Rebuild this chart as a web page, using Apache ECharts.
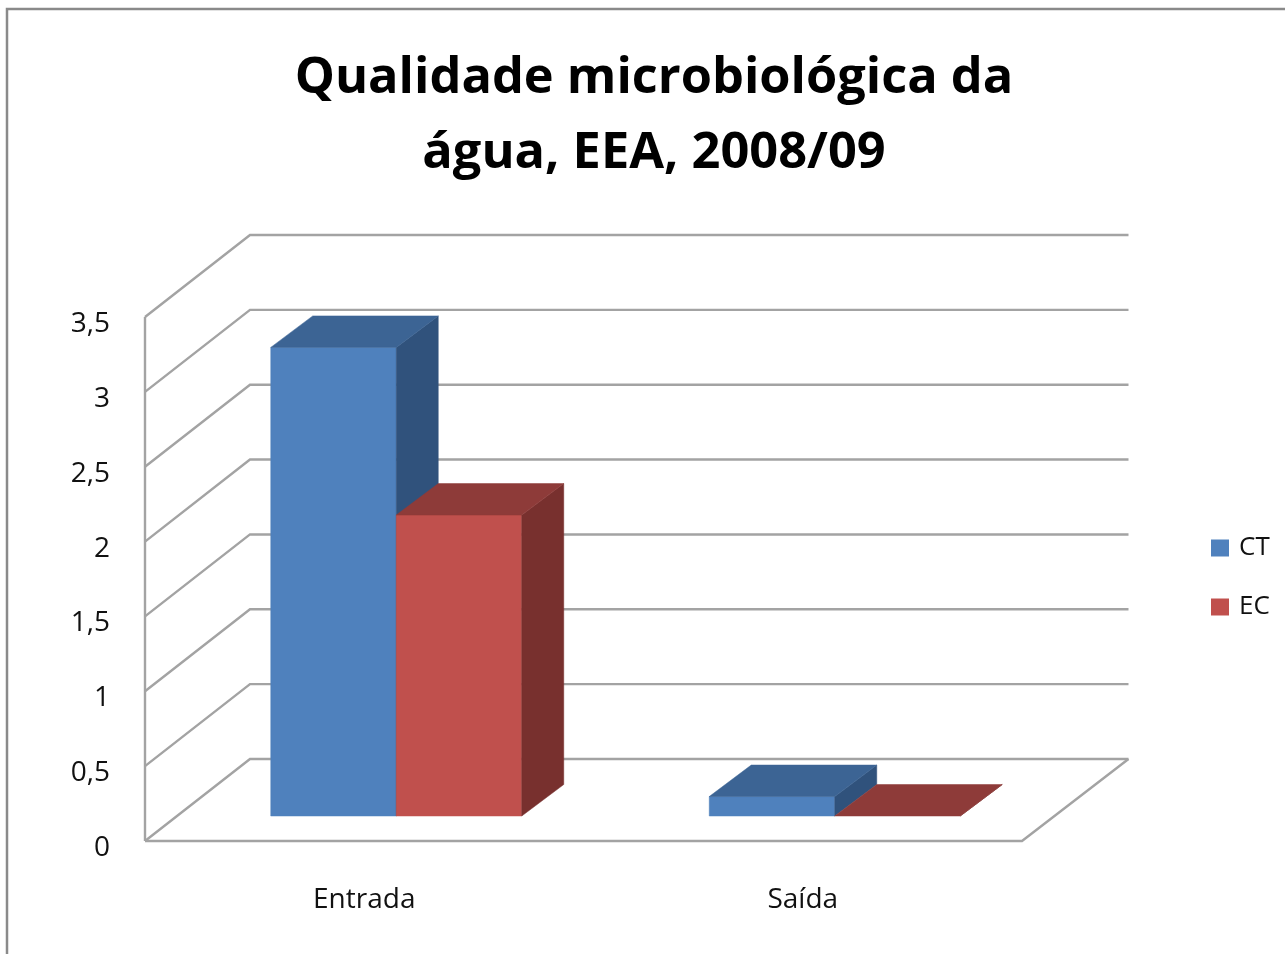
<!DOCTYPE html>
<html>
<head>
<meta charset="utf-8">
<style>html,body{margin:0;padding:0;background:#fff;overflow:hidden}#c{width:1285px;height:954px}</style>
<script src="https://cdn.jsdelivr.net/npm/echarts@6/dist/echarts.min.js"></script>
</head>
<body>
<div id="c"></div>
<script>
const categories = ['Entrada', 'Saída'];
const ctValues = [3.13, 0.13];
const ecValues = [2.01, 0];
const yTicks = [0, 0.5, 1, 1.5, 2, 2.5, 3, 3.5];
const titleText = 'Qualidade microbiológica da\nágua, EEA, 2008/09';
const font = '"Open Sans", "Noto Sans", sans-serif';
const labelColor = '#111';
const lineColor = '#a3a3a3';

const floorDepth = [105, -82];   // front of the floor to the back wall
const wallOverrun = 1.5;         // back wall lines run slightly past the floor corner
const barInset = [32, -25];      // front of the floor to the front of a bar
const barDepth = [42, -31.5];    // front of a bar to its back
const barShare = 0.2862;         // bar width as a share of a category band

function wallItem(params, api) {
  const v = api.value(0);
  const band = api.size([1, 0])[0];
  const y = api.coord([0, v])[1];
  const x0 = api.coord([0, v])[0] - band / 2;
  const x1 = api.coord([1, v])[0] + band / 2;
  const lineStyle = { stroke: lineColor, lineWidth: 2.4, fill: null };
  const bx0 = x0 + floorDepth[0], bx1 = x1 + floorDepth[0] + wallOverrun, by = y + floorDepth[1];
  const children = [{
    type: 'polyline',
    shape: { points: [[x0, y], [bx0, by], [bx1, by]] },
    style: lineStyle
  }];
  if (v === 0) {
    children.push({
      type: 'polyline',
      shape: { points: [[x0, y], [x1, y], [bx1, by]] },
      style: lineStyle
    });
    children.push({
      type: 'line',
      shape: { x1: x0, y1: y, x2: x0, y2: api.coord([0, yTicks[yTicks.length - 1]])[1] },
      style: lineStyle
    });
  }
  return { type: 'group', children };
}

function barRenderer(offsetBars, front, top, side) {
  return function (params, api) {
    const i = api.value(0), v = api.value(1);
    const band = api.size([1, 0])[0];
    const w = band * barShare;
    const base = api.coord([i, 0]);
    const head = api.coord([i, v]);
    const xl = base[0] + offsetBars * w + barInset[0];
    const xr = xl + w;
    const yb = base[1] + barInset[1];
    const yt = head[1] + barInset[1];
    const dx = barDepth[0], dy = barDepth[1];
    const poly = (pts, fill) => ({ type: 'polygon', shape: { points: pts }, style: { fill, stroke: fill, lineWidth: 0.5 } });
    const children = [
      poly([[xr, yb], [xr + dx, yb + dy], [xr + dx, yt + dy], [xr, yt]], side),
      poly([[xl, yt], [xl + dx, yt + dy], [xr + dx, yt + dy], [xr, yt]], top)
    ];
    if (v > 0) children.unshift(poly([[xl, yb], [xr, yb], [xr, yt], [xl, yt]], front));
    return { type: 'group', children };
  };
}

const chart = echarts.init(document.getElementById('c'), null, { renderer: 'canvas' });
chart.setOption({
  animation: false,
  backgroundColor: '#fff',
  title: {
    text: titleText,
    left: 649,
    top: 36,
    textAlign: 'center',
    textStyle: { fontFamily: font, fontWeight: 'bold', fontSize: 50.5, lineHeight: 75, color: '#000' }
  },
  legend: {
    data: ['CT', 'EC'],
    orient: 'vertical',
    left: 1206,
    top: 530,
    icon: 'rect',
    itemWidth: 18,
    itemHeight: 17,
    itemGap: 33,
    textStyle: { fontFamily: font, fontSize: 26, color: labelColor, padding: [0, 0, 0, 5] }
  },
  grid: { left: 145, top: 317, width: 877, height: 524 },
  xAxis: {
    type: 'category',
    data: categories,
    axisLine: { show: false },
    axisTick: { show: false },
    axisLabel: { margin: 45, fontFamily: font, fontSize: 28, color: labelColor }
  },
  yAxis: {
    type: 'value',
    min: 0,
    max: 3.5,
    interval: 0.5,
    axisLine: { show: false },
    axisTick: { show: false },
    splitLine: { show: false },
    axisLabel: {
      margin: 35,
      fontFamily: font,
      fontSize: 28,
      color: labelColor,
      verticalAlign: 'top',
      lineHeight: 14,
      formatter: v => String(v).replace('.', ',')
    }
  },
  graphic: [{
    type: 'polyline',
    silent: true,
    shape: { points: [[7, 954], [7, 9], [1285, 9]] },
    style: { stroke: '#8a8a8a', lineWidth: 2.5, fill: null }
  }],
  series: [
    { type: 'custom', name: 'wall', silent: true, z: 1, renderItem: wallItem,
      encode: { y: 0 }, data: yTicks.map(v => [v]) },
    { type: 'custom', name: 'CT', z: 2, itemStyle: { color: '#4f81bd' },
      renderItem: barRenderer(-1, '#4f81bd', '#3c6494', '#30527c'),
      encode: { x: 0, y: 1 }, data: ctValues.map((v, i) => [i, v]) },
    { type: 'custom', name: 'EC', z: 3, itemStyle: { color: '#c0504d' },
      renderItem: barRenderer(0, '#c0504d', '#8e3b39', '#78302e'),
      encode: { x: 0, y: 1 }, data: ecValues.map((v, i) => [i, v]) }
  ]
});
</script>
</body>
</html>
